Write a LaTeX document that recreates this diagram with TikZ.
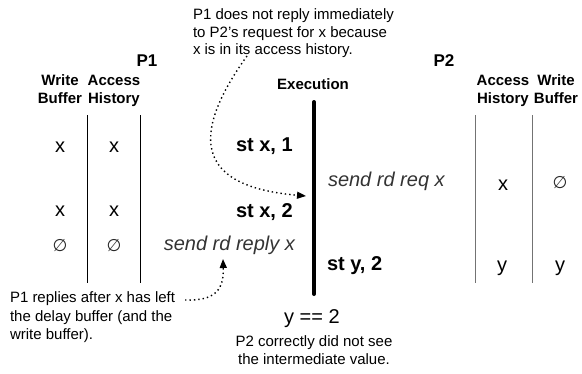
\documentclass[tikz,border=0pt]{standalone}
\usepackage{fontspec}
\setmainfont{Liberation Sans}
\newfontfamily\symfont{DejaVu Sans}
\usetikzlibrary{arrows.meta}
\begin{document}
\begin{tikzpicture}[x=1pt,y=-1pt,
  every node/.style={inner sep=0pt, outer sep=0pt},
  head/.style={font=\bfseries\fontsize{15}{18}\selectfont, align=center, anchor=north},
  proc/.style={font=\bfseries\fontsize{17}{20}\selectfont},
  cell/.style={font=\fontsize{20}{24}\selectfont, anchor=base},
  nullset/.style={font=\symfont\fontsize{17}{20}\selectfont, anchor=base, text=black!85},
  op/.style={font=\bfseries\fontsize{20}{24}\selectfont, anchor=base west},
  msg/.style={font=\itshape\fontsize{20}{24}\selectfont, text=black!80},
  note/.style={font=\fontsize{15}{18}\selectfont, align=left},
  col/.style={line width=1pt},
  timeline/.style={line width=4pt, line cap=round},
  hint/.style={line width=1.4pt, dash pattern=on 1.4pt off 3pt,
    -{Triangle[length=9pt,width=7pt]}}
]
\useasboundingbox (0,0) rectangle (582,373);

% processor and column headings
\node[proc] (p1) at (147,61) {P1};
\node[proc] (p2) at (444,61) {P2};
\node[head] (wb1) at (60,75) {Write\\Buffer};
\node[head] (ah1) at (114,75) {Access\\History};
\node[head] (ah2) at (503,75) {Access\\History};
\node[head] (wb2) at (556,75) {Write\\Buffer};
\node[font=\bfseries\fontsize{15}{18}\selectfont] (exe) at (313,84) {Execution};

% column rules
\draw[col] (87,115) -- (87,283);
\draw[col] (140,115) -- (140,283);
\draw[col, black!55] (475,115) -- (475,283);
\draw[col, black!55] (532,115) -- (532,283);

% execution timeline
\coordinate (tltop) at (314,102);
\coordinate (tlbot) at (314,294);
\draw[timeline] (tltop) -- (tlbot);

% P1 buffers and operations
\node[cell] (w1) at (60,152) {x};
\node[cell] (h1) at (114,152) {x};
\node[op] (s1) at (236,151) {st x, 1};
\node[cell] (w2) at (60,216) {x};
\node[cell] (h2) at (114,216) {x};
\node[op] (s2) at (236,217) {st x, 2};
\node[nullset] (w3) at (60,251) {∅};
\node[nullset] (h3) at (114,251) {∅};
\node[msg, anchor=base east] (reply) at (295,250) {send rd reply x};

% P2 buffers and operations
\node[msg, anchor=base west] (req) at (328,186) {send rd req x};
\node[cell] (h4) at (503,190) {x};
\node[nullset] (w4) at (560,188) {∅};
\node[op] (s3) at (327,270) {st y, 2};
\node[cell] (h5) at (502,271) {y};
\node[cell] (w5) at (560,271) {y};

% outcome
\node[cell] (res) at (312,323) {y == 2};
\node[note, align=center, anchor=north] (concl) at (314,336)
  {P2 correctly did not see\\the intermediate value.};

% annotations
\node[note, anchor=north west, font=\fontsize{15}{17.5}\selectfont] (note1) at (193,9)
  {P1 does not reply immediately\\to P2's request for x because\\x is in its access history.};
\node[note, anchor=north west, font=\fontsize{15}{18.5}\selectfont] (note2) at (10,292)
  {P1 replies after x has left\\the delay buffer (and the\\write buffer).};

\coordinate (tip1) at (306,196);
\coordinate (tip2) at (223,259);
\draw[hint] ([xshift=54pt,yshift=2pt]note1.south west)
  .. controls (178,152) and (214,188) .. (tip1);
\draw[hint] ([xshift=10pt,yshift=-8pt]note2.north east)
  .. controls (215,301) and (224,290) .. (tip2);
\end{tikzpicture}
\end{document}
